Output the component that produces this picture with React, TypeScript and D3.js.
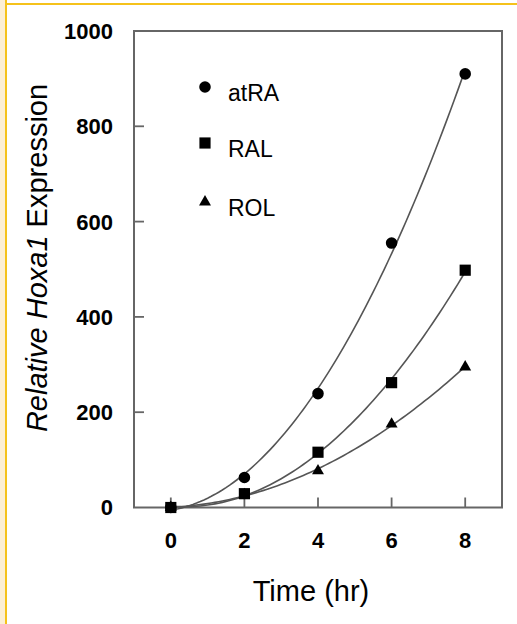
import React, { useEffect, useRef } from 'react';
import * as d3 from 'd3';

const hours = [0, 2, 4, 6, 8];
const atRA = [0, 63, 239, 555, 910];
const RAL = [0, 29, 116, 262, 498];
const ROL = [0, 27, 77, 175, 295];
const yTicks = [0, 200, 400, 600, 800, 1000];
const xTicks = [0, 2, 4, 6, 8];
const seriesNames = ['atRA', 'RAL', 'ROL'];

// quadratic least squares trendline (like Excel's polynomial, order 2)
function quadFit(xs: number[], ys: number[]) {
  let s0 = 0, s1 = 0, s2 = 0, s3 = 0, s4 = 0, t0 = 0, t1 = 0, t2 = 0;
  xs.forEach((x, i) => {
    const y = ys[i];
    s0 += 1; s1 += x; s2 += x * x; s3 += x * x * x; s4 += x * x * x * x;
    t0 += y; t1 += x * y; t2 += x * x * y;
  });
  const m = [[s0, s1, s2, t0], [s1, s2, s3, t1], [s2, s3, s4, t2]];
  for (let c = 0; c < 3; c++) {
    for (let r = c + 1; r < 3; r++) {
      const f = m[r][c] / m[c][c];
      for (let k = c; k < 4; k++) m[r][k] -= f * m[c][k];
    }
  }
  const coef = [0, 0, 0];
  for (let r = 2; r >= 0; r--) {
    let v = m[r][3];
    for (let k = r + 1; k < 3; k++) v -= m[r][k] * coef[k];
    coef[r] = v / m[r][r];
  }
  return (x: number) => coef[0] + coef[1] * x + coef[2] * x * x;
}

export default function App() {
  const ref = useRef<SVGSVGElement>(null);

  useEffect(() => {
    const svg = d3.select(ref.current);
    svg.selectAll('*').remove();
    const W = 517, H = 624;
    const m = { left: 134, top: 31, right: 502, bottom: 507.5 };
    const font = 'Liberation Sans, Arial, sans-serif';

    // frame decoration
    svg.append('rect').attr('x', 0).attr('y', 0).attr('width', W).attr('height', H).attr('fill', '#fff');
    svg.append('rect').attr('x', 0).attr('y', 0).attr('width', 5).attr('height', H).attr('fill', '#fcefd4');
    svg.append('rect').attr('x', 5).attr('y', 0).attr('width', 2).attr('height', H).attr('fill', '#f5c21b');
    svg.append('rect').attr('x', 5).attr('y', 3).attr('width', W - 5).attr('height', 2).attr('fill', '#f5c21b');

    const x = d3.scaleLinear().domain([-1, 9]).range([m.left, m.right]);
    const y = d3.scaleLinear().domain([0, 1000]).range([m.bottom, m.top]);

    const g = svg.append('g');
    // ticks
    g.selectAll('.xt').data(xTicks).enter().append('line')
      .attr('x1', d => x(d)).attr('x2', d => x(d))
      .attr('y1', m.bottom).attr('y2', m.bottom - 10)
      .attr('stroke', '#666').attr('stroke-width', 1.8);
    g.selectAll('.yt').data(yTicks.slice(1, -1)).enter().append('line')
      .attr('x1', m.left).attr('x2', m.left + 10)
      .attr('y1', d => y(d)).attr('y2', d => y(d))
      .attr('stroke', '#666').attr('stroke-width', 1.8);
    g.append('rect')
      .attr('x', m.left).attr('y', m.top)
      .attr('width', m.right - m.left).attr('height', m.bottom - m.top)
      .attr('fill', 'none').attr('stroke', '#666').attr('stroke-width', 2);

    // tick labels
    g.selectAll('.yl').data(yTicks).enter().append('text')
      .attr('x', 113).attr('y', d => y(d)).attr('dy', '0.36em')
      .attr('text-anchor', 'end')
      .attr('font-family', font)
      .attr('font-weight', 'bold').attr('font-size', 22)
      .text(d => d);
    g.selectAll('.xl').data(xTicks).enter().append('text')
      .attr('x', d => x(d)).attr('y', 548)
      .attr('text-anchor', 'middle')
      .attr('font-family', font)
      .attr('font-weight', 'bold').attr('font-size', 22)
      .text(d => d);

    // axis titles
    svg.append('text')
      .attr('x', 311).attr('y', 601)
      .attr('text-anchor', 'middle')
      .attr('font-family', font)
      .attr('font-size', 29)
      .text('Time (hr)');
    const yt = svg.append('text')
      .attr('transform', 'translate(47,258) rotate(-90)')
      .attr('text-anchor', 'middle')
      .attr('font-family', font)
      .attr('font-size', 29);
    yt.append('tspan').attr('font-style', 'italic').text('Relative Hoxa1');
    yt.append('tspan').text(' Expression');

    // trendlines
    const all = [atRA, RAL, ROL];
    const xsFine = d3.range(0, 8.001, 0.1);
    const line = d3.line<number>().x(d => x(d[0])).y(d => y(d[1])) as any;
    all.forEach(vals => {
      const f = quadFit(hours, vals);
      g.append('path')
        .attr('d', line(xsFine.map(v => [v, f(v)])))
        .attr('fill', 'none').attr('stroke', '#555').attr('stroke-width', 1.6);
    });

    // markers
    const symbols = [d3.symbolCircle, d3.symbolSquare, d3.symbolTriangle];
    const sizes = [105, 125, 62];
    all.forEach((vals, si) => {
      const sym = d3.symbol().type(symbols[si]).size(sizes[si]);
      g.selectAll('.p' + si).data(vals).enter().append('path')
        .attr('d', sym() as string)
        .attr('transform', (d, i) => `translate(${x(hours[i])},${y(d)})`)
        .attr('fill', '#000');
    });

    // legend
    const legY = [93, 149, 208];
    seriesNames.forEach((name, si) => {
      const sym = d3.symbol().type(symbols[si]).size(sizes[si]);
      svg.append('path')
        .attr('d', sym() as string)
        .attr('transform', `translate(205,${legY[si] - 6})`)
        .attr('fill', '#000');
      svg.append('text')
        .attr('x', 228).attr('y', legY[si]).attr('dy', '0.36em')
        .attr('font-family', font)
        .attr('font-size', 23)
        .text(name);
    });
  }, []);

  return (
    <div style={{ position: 'absolute', left: 0, top: 0 }}>
      <svg ref={ref} width={517} height={624} style={{ display: 'block' }}></svg>
    </div>
  );
}
